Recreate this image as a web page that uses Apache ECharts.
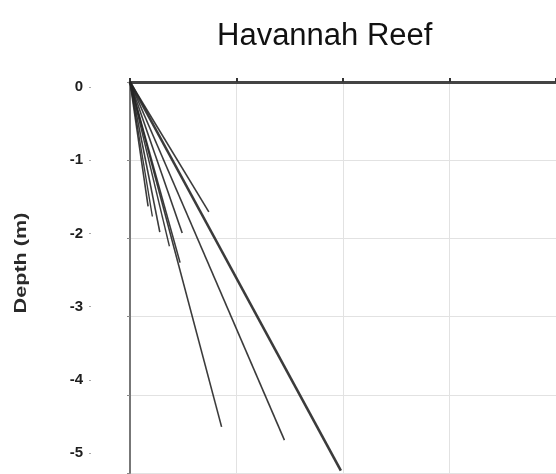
<!DOCTYPE html>
<html>
<head>
<meta charset="utf-8">
<script src="https://cdn.jsdelivr.net/npm/echarts@6/dist/echarts.min.js"></script>
<style>
html,body{margin:0;padding:0;background:#fff;}
#chart{width:556px;height:474px;}
</style>
</head>
<body>
<div id="chart"></div>
<script>
// ---- data ----
const chartTitle = 'Havannah Reef';
const depthAxisName = 'Depth (m)';
const depthTicks = [0, -1, -2, -3, -4, -5];
const distanceTicks = [0, 1, 2, 3, 4];
const profileNames = ['P1', 'P2', 'P3', 'P4', 'P5', 'P6', 'P7', 'P8', 'P9', 'P10'];
const startX = [0, 0, 0, 0, 0, 0, 0, 0, 0, 0];
const startY = [0, 0, 0, 0, 0, 0, 0, 0, 0, 0];
const endX = [1.98, 1.45, 0.86, 0.74, 0.49, 0.47, 0.28, 0.17, 0.21, 0.37];
const endY = [-4.97, -4.58, -4.41, -1.66, -1.93, -2.31, -1.92, -1.59, -1.72, -2.10];
const lineWidths = [2.6, 1.6, 1.6, 1.6, 1.6, 1.6, 1.6, 1.6, 1.4, 1.4];

const chart = echarts.init(document.getElementById('chart'), null, {renderer: 'canvas'});
const dMin = Math.min(...depthTicks), dMax = Math.max(...depthTicks);
const xMin = Math.min(...distanceTicks), xMax = Math.max(...distanceTicks);

const series = profileNames.map((n, i) => ({
  name: n,
  type: 'line',
  xAxisIndex: 0,
  yAxisIndex: 0,
  symbol: 'none',
  lineStyle: {color: '#262626', width: lineWidths[i], opacity: 0.9},
  data: [[startX[i], startY[i]], [endX[i], endY[i]]],
  z: 3
}));

const option = {
  backgroundColor: '#ffffff',
  animation: false,
  title: {
    text: chartTitle,
    left: 212,
    top: 16,
    textStyle: {fontFamily: 'Liberation Sans, Arial, sans-serif', fontSize: 31, fontWeight: 'normal', color: '#111'}
  },
  graphic: [{
    type: 'text',
    x: 22,
    y: 263,
    rotation: Math.PI / 2,
    scaleX: 1.35,
    style: {
      text: depthAxisName,
      align: 'center',
      verticalAlign: 'middle',
      fontFamily: 'Liberation Sans, Arial, sans-serif',
      fontSize: 16,
      fontWeight: 'bold',
      fill: '#2a2a2a'
    }
  }],
  grid: [
    {left: 130, top: 82, width: 430, height: 391, containLabel: false},
    {left: 91, top: 87, width: 1, height: 366, containLabel: false}
  ],
  xAxis: [
    {
      gridIndex: 0, type: 'value', position: 'top', min: xMin, max: xMax, interval: 1,
      axisLine: {show: true, onZero: false, lineStyle: {color: '#444', width: 3}},
      axisTick: {show: true, inside: false, length: 4, lineStyle: {color: '#333', width: 2}},
      axisLabel: {show: false},
      splitLine: {show: true, lineStyle: {color: '#e2e2e2', width: 1}}
    },
    {gridIndex: 1, type: 'value', show: false, min: 0, max: 1}
  ],
  yAxis: [
    {
      gridIndex: 0, type: 'value', min: dMin, max: dMax, interval: 1,
      axisLine: {show: true, onZero: false, lineStyle: {color: '#777', width: 2}},
      axisTick: {show: true, length: 3, lineStyle: {color: '#888', width: 1}},
      axisLabel: {show: false},
      splitLine: {show: true, lineStyle: {color: '#e2e2e2', width: 1}}
    },
    {
      gridIndex: 1, type: 'value', min: dMin, max: dMax, interval: 1,
      axisLine: {show: false},
      axisTick: {show: true, length: 2, lineStyle: {color: '#aaa', width: 1}},
      axisLabel: {show: true, margin: 8, fontFamily: 'Liberation Sans, Arial, sans-serif', fontSize: 15, fontWeight: 'bold', color: '#1e1e1e'},
      splitLine: {show: false}
    }
  ],
  series: series
};
chart.setOption(option);
</script>
</body>
</html>
